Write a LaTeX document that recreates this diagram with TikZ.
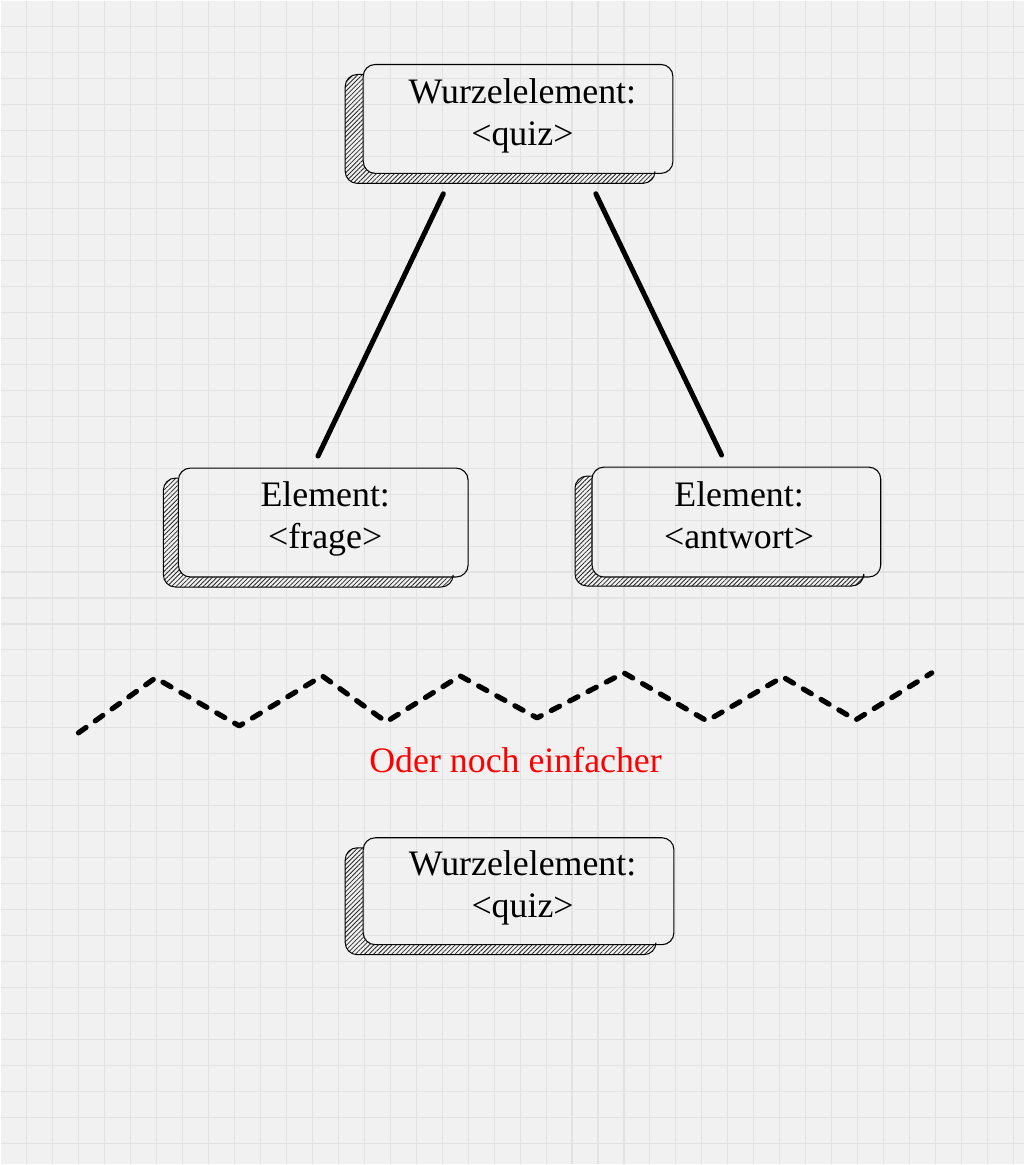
\documentclass[tikz,border=0pt]{standalone}
\usepackage{fontspec}
\setmainfont{Liberation Serif}
\usetikzlibrary{calc,patterns.meta}
\definecolor{bgc}{HTML}{F1F1F1}
\definecolor{gridc}{HTML}{E2E2E2}
\definecolor{redtxt}{HTML}{FF0000}
\newcommand\bst{\rule[-11.7pt]{0pt}{31.5pt}}
\newcommand\lpad[1]{\hspace*{#1}}
\tikzset{
  gridline/.style={draw=gridc,line width=0.8pt},
  xmlbox/.style={draw=black,line width=0.8pt,rounded corners=9pt,inner sep=0pt,outer sep=0pt,
    align=center,font=\fontsize{26.9}{31.5}\selectfont},
  hatch/.style={pattern={Lines[angle=45,distance=2.4pt,line width=0.6pt]},pattern color=black!85},
  shadowline/.style={draw=black,line width=0.75pt,rounded corners=9pt},
  conn/.style={line width=3.75pt,line cap=round},
  zig/.style={line width=3.9pt,line cap=round,line join=round,dash pattern=on 7pt off 8.5pt},
}
\newcommand\hatchshadow[3]{%
  \path[hatch]
    ($(#1.north west)+(0,#3)$) [rounded corners=9pt] -- ($(#1.north west)+(#2,#3)$)
    -- ($(#1.south west)+(#2,#3)$) -- ($(#1.south east)+(#2,#3)$)
    [sharp corners] -- ($(#1.south east)+(#2,0)$) [rounded corners=9pt] -- (#1.south west)
    [sharp corners] -- cycle;
  \draw[shadowline]
    ($(#1.north west)+(0,#3)$) -- ($(#1.north west)+(#2,#3)$)
    -- ($(#1.south west)+(#2,#3)$) -- ($(#1.south east)+(#2,#3)$)
    [sharp corners] -- ($(#1.south east)+(#2,0)$);
}
\begin{document}
\begin{tikzpicture}[x=0.75pt,y=-0.75pt]
  % background
  \fill[bgc] (0,0) rectangle (1024,1165);
  \foreach \i in {26,52,...,1014} \draw[gridline] (\i,0) -- (\i,1165);
  \foreach \j in {26,52,...,1157} \draw[gridline] (0,\j) -- (1024,\j);
  \useasboundingbox (0,0) rectangle (1024,1165);

  % boxes
  \node[xmlbox,minimum width=232.5pt,minimum height=81.75pt] (top) at (518,118.5)
    {\lpad{6.5pt}\bst Wurzelelement:\\\lpad{6.5pt}\bst\textless quiz\textgreater};
  \node[xmlbox,minimum width=217.5pt,minimum height=81.75pt] (frage) at (323,522.5)
    {\lpad{3pt}\bst Element:\\\lpad{3pt}\bst\textless frage\textgreater};
  \node[xmlbox,minimum width=216.75pt,minimum height=82.5pt] (antwort) at (736.5,522)
    {\lpad{4pt}\bst Element:\\\lpad{4pt}\bst\textless antwort\textgreater};
  \node[xmlbox,minimum width=233.25pt,minimum height=80.25pt] (bottom) at (518.5,891.5)
    {\lpad{6pt}\bst Wurzelelement:\\\lpad{6pt}\bst\textless quiz\textgreater};

  \hatchshadow{top}{-18}{10}
  \hatchshadow{frage}{-15}{10}
  \hatchshadow{antwort}{-17}{9}
  \hatchshadow{bottom}{-18}{10}

  % connectors
  \draw[conn,shorten <=17pt,shorten >=10pt] ($(top.south)+(-65,0)$) -- ($(frage.north)+(-11,0)$);
  \draw[conn,shorten <=17pt,shorten >=10pt] ($(top.south)+(68,0)$) -- ($(antwort.north)+(-9,0)$);

  % zigzag separator
  \draw[zig] (78,733) -- (155,678) -- (239,726) -- (322,676) -- (386,722) -- (460,676)
    -- (537,718) -- (624,673) -- (707,721) -- (783,677) -- (856,720) -- (932,673);

  \node[anchor=base,text=redtxt,inner sep=0pt,font=\fontsize{26.9}{31.5}\selectfont] (hint) at (515.5,773)
    {Oder noch einfacher};
\end{tikzpicture}
\end{document}
